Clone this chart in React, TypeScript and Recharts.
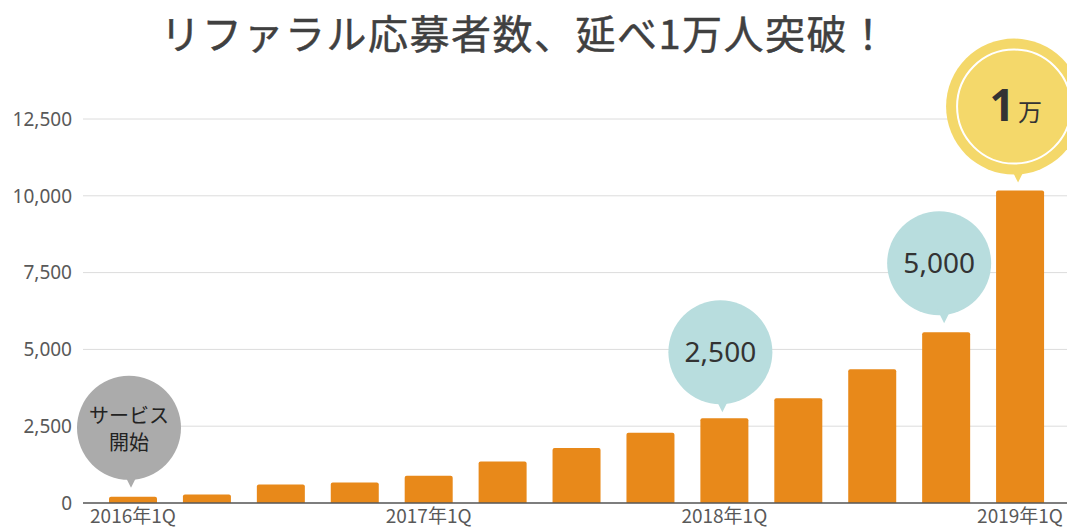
import React from 'react';
import { BarChart, Bar, XAxis, YAxis, CartesianGrid, LabelList } from 'recharts';

const quarters = [
  '2016年1Q', '2016年2Q', '2016年3Q', '2016年4Q',
  '2017年1Q', '2017年2Q', '2017年3Q', '2017年4Q',
  '2018年1Q', '2018年2Q', '2018年3Q', '2018年4Q',
  '2019年1Q',
];
const applicants = [200, 280, 600, 670, 890, 1350, 1790, 2290, 2760, 3410, 4350, 5560, 10170];
const yTicks = [0, 2500, 5000, 7500, 10000, 12500];
const calloutIndexes = [0, 8, 11, 12];
const calloutLabels = ['サービス\n開始', '2,500', '5,000', '1万'];

const data = quarters.map((q, i) => ({ quarter: q, value: applicants[i] }));

const TITLE = 'リファラル応募者数、延べ1万人突破！';

const calloutStyles = [
  { fill: '#ABABAB', r: 52, dx: -4, gap: 9, kind: 'jp' },
  { fill: '#B8DDDE', r: 52, dx: -4, gap: 6, kind: 'num' },
  { fill: '#B8DDDE', r: 52, dx: -7, gap: 9, kind: 'num' },
  { fill: '#F4D86A', r: 68, dx: -6, gap: 8, kind: 'big' },
];

const Callout = (props: any) => {
  const { x, y, width, index } = props;
  const ci = calloutIndexes.indexOf(index);
  if (ci < 0) return null;
  const st = calloutStyles[ci];
  const label = calloutLabels[ci];
  const bx = x + width / 2;
  const tipY = y - st.gap;
  const cy = tipY - 10 - st.r + 2;
  const cx = bx + st.dx;
  const tipX = bx - 2;
  const baseY = cy + st.r - 6;
  let content: React.ReactNode = null;
  if (st.kind === 'jp') {
    const lines = label.split('\n');
    content = (
      <text x={cx} y={cy} textAnchor="middle" fill="#222" fontSize={20}
        fontFamily="'Noto Sans CJK JP', sans-serif">
        <tspan x={cx} dy={-5}>{lines[0]}</tspan>
        <tspan x={cx} dy={27}>{lines[1]}</tspan>
      </text>
    );
  } else if (st.kind === 'num') {
    content = (
      <text x={cx} y={cy + 10} textAnchor="middle" fill="#333" fontSize={28}
        fontFamily="'Noto Sans', sans-serif">{label}</text>
    );
  } else {
    content = (
      <g>
        <circle cx={cx} cy={cy} r={st.r - 11} fill="none" stroke="#fff" strokeWidth={2} />
        <text x={cx - 12} y={cy + 14} textAnchor="middle" fill="#333" fontSize={44} fontWeight={700}
          fontFamily="'Noto Sans', sans-serif">{label.charAt(0)}</text>
        <text x={cx + 16} y={cy + 14} textAnchor="middle" fill="#333" fontSize={24}
          fontFamily="'Noto Sans CJK JP', sans-serif">{label.charAt(1)}</text>
      </g>
    );
  }
  return (
    <g>
      <circle cx={cx} cy={cy} r={st.r} fill={st.fill} />
      <path d={`M${tipX - 7},${baseY} L${tipX + 7},${baseY} L${tipX},${tipY} Z`} fill={st.fill} />
      {content}
    </g>
  );
};

export default function App() {
  return (
    <div style={{ position: 'absolute', left: 0, top: 0, width: 1067, height: 531, background: '#fff', overflow: 'hidden' }}>
      <div style={{
        position: 'absolute', left: 0, top: 7, width: 1050, textAlign: 'center',
        fontFamily: "'Noto Sans CJK JP', sans-serif", fontSize: 40, fontWeight: 400,
        color: '#404040', letterSpacing: 1.5, lineHeight: '50px',
        WebkitTextStroke: '0.45px #404040',
      }}>{TITLE}</div>
      <BarChart width={1067} height={531} data={data}
        margin={{ top: 119, right: 0, bottom: 0, left: 0 }} barSize={48}>
        <CartesianGrid vertical={false} stroke="#dcdcdc" />
        <XAxis dataKey="quarter" interval={3} padding={{ left: 13, right: 10 }} height={28}
          axisLine={{ stroke: '#595959', strokeWidth: 1.5 }} tickLine={false}
          tick={{ fill: '#595959', fontSize: 19, fontFamily: "'Noto Sans CJK JP', sans-serif" }}
          tickMargin={1} />
        <YAxis width={83} domain={[0, 12500]} ticks={yTicks} axisLine={false} tickLine={false}
          tickFormatter={(v: number) => v.toLocaleString('en-US')} tickMargin={5}
          tick={{ fill: '#595959', fontSize: 19, fontFamily: "'Noto Sans', sans-serif" }} />
        <Bar dataKey="value" fill="#E8891A" radius={[2, 2, 0, 0]} isAnimationActive={false}>
          <LabelList dataKey="value" content={<Callout />} />
        </Bar>
      </BarChart>
    </div>
  );
}
